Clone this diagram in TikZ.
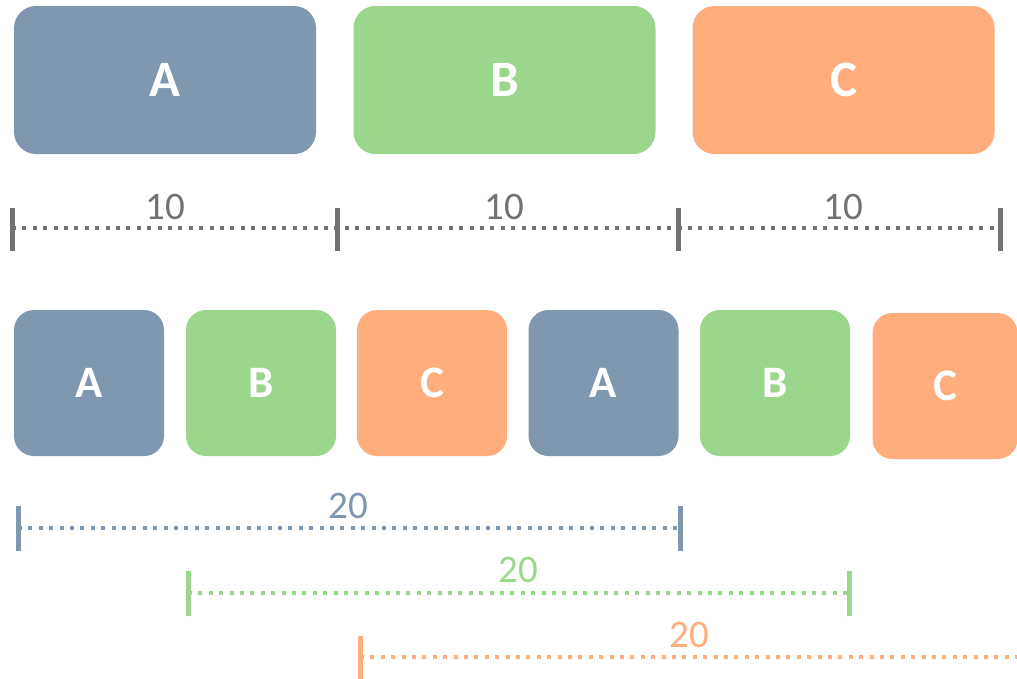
\documentclass[tikz,border=0pt]{standalone}
\usepackage{fontspec}
\setmainfont{Carlito}
\definecolor{cA}{HTML}{8097B0}
\definecolor{cB}{HTML}{9BD68D}
\definecolor{cC}{HTML}{FFAD7D}
\definecolor{cG}{HTML}{767171}
\begin{document}
\begin{tikzpicture}[x=1pt,y=-1pt,
  bigbox/.style={rectangle,rounded corners=22pt,minimum width=302pt,minimum height=148pt,inner sep=0pt,text=white,font=\fontsize{51}{51}\selectfont\bfseries},
  smallbox/.style={rectangle,rounded corners=20pt,minimum width=150pt,minimum height=146pt,inner sep=0pt,text=white,font=\fontsize{45}{45}\selectfont\bfseries},
  tick/.style={line width=5pt},
  dots/.style={line width=4pt,dash pattern=on 4pt off 6.4pt},
  numlabel/.style={font=\fontsize{39}{39}\selectfont,inner sep=0pt}]
\useasboundingbox (0,0) rectangle (1017,678);
% top row
\node[bigbox,fill=cA] (TA) at (165,80) {A};
\node[bigbox,fill=cB] (TB) at (504.5,80) {B};
\node[bigbox,fill=cC] (TC) at (843.5,80) {C};
% top ruler
\coordinate (r0) at (12,228);
\coordinate (r1) at (337,228);
\coordinate (r2) at (678,228);
\coordinate (r3) at (1000,228);
\draw[cG,dots] (r0) -- (r3);
\foreach \c in {r0,r1,r2,r3}{\draw[cG,tick] ([yshift=-23pt]\c) -- ([yshift=20pt]\c);}
\node[numlabel,text=cG] (l1) at (165,207) {10};
\node[numlabel,text=cG] (l2) at (504,207) {10};
\node[numlabel,text=cG] (l3) at (843,207) {10};
% bottom row
\node[smallbox,fill=cA] (BA1) at (89,383) {A};
\node[smallbox,fill=cB] (BB1) at (261,383) {B};
\node[smallbox,fill=cC] (BC1) at (432,383) {C};
\node[smallbox,fill=cA] (BA2) at (603.5,383) {A};
\node[smallbox,fill=cB] (BB2) at (775,383) {B};
\node[smallbox,fill=cC,minimum width=145pt] (BC2) at (945,386) {C};
% blue ruler
\coordinate (a0) at (18,528);
\coordinate (a1) at (680,528);
\draw[cA,dots] (a0) -- (a1);
\foreach \c in {a0,a1}{\draw[cA,tick] ([yshift=-23pt]\c) -- ([yshift=22pt]\c);}
\node[numlabel,text=cA] (la) at (348,506) {20};
% green ruler
\coordinate (g0) at (188,593);
\coordinate (g1) at (849,593);
\draw[cB,dots] (g0) -- (g1);
\foreach \c in {g0,g1}{\draw[cB,tick] ([yshift=-23pt]\c) -- ([yshift=22pt]\c);}
\node[numlabel,text=cB] (lg) at (518,570) {20};
% orange ruler
\coordinate (o0) at (360,657);
\coordinate (o1) at (1017,657);
\draw[cC,dots] (o0) -- (o1);
\draw[cC,tick] ([yshift=-23pt]o0) -- ([yshift=21pt]o0);
\node[numlabel,text=cC] (lo) at (689,635) {20};
\end{tikzpicture}
\end{document}
